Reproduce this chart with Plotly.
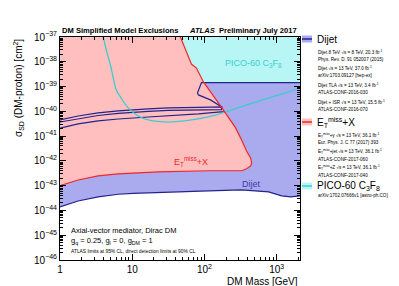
import plotly.graph_objects as go

# ---------------- data ----------------
# E_T^miss + X exclusion boundary (from top edge, down, then left along the bottom)
met_x = [46.4, 54.4, 65.9, 77.4, 96.8, 166.8, 195.8, 269.7, 316, 383, 435, 450, 435, 383, 326, 113.6, 23, 10.3, 6.4, 3.37, 1.78, 1.0]
met_y = [1e-37, 3.0e-38, 8.1e-39, 5.6e-39, 1.54e-39, 1.66e-40, 8.7e-41, 2.14e-41, 8.5e-42, 2.5e-42, 1.32e-42, 8.3e-43, 6.3e-43, 4.8e-43, 4.0e-43, 4.0e-43, 3.6e-43, 3.3e-43, 3.0e-43, 2.5e-43, 1.7e-43, 1.0e-43]

# Dijet lower limit
dijet_low_x = [1.0, 1.78, 3.37, 6.4, 10.3, 31.6, 113.6, 326, 774, 1172, 1564, 2100]
dijet_low_y = [1.4e-44, 2.4e-44, 3.5e-44, 4.5e-44, 4.9e-44, 5.6e-44, 6.2e-44, 6.8e-44, 5.6e-44, 3.9e-44, 3.5e-44, 3.9e-44]

# Dijet upper boundary (right side)
dijet_up_x = [2100, 90.8, 80, 82.5, 121, 166.8, 178]
dijet_up_y = [1.45e-39, 1.45e-39, 5.5e-40, 4.6e-40, 2.9e-40, 1.66e-40, 1.44e-40]

# Dijet thin contour (closed loop)
dijet_loop_x = [1.0, 1.78, 3.37, 6.4, 16.7, 31.6, 82.5, 172, 172, 82.5, 31.6, 16.7, 6.4, 3.37, 1.78, 1.0]
dijet_loop_y = [4.5e-41, 6.5e-41, 8.7e-41, 1.05e-40, 1.26e-40, 1.38e-40, 1.45e-40, 1.5e-40,
                1.18e-40, 1.15e-40, 1.1e-40, 1.0e-40, 8.3e-41, 6.8e-41, 5.1e-41, 3.7e-41]

# Dijet lower contour
dijet_c2_x = [1.0, 1.78, 3.37, 6.4, 16.7, 31.6, 82.5, 166.8, 190]
dijet_c2_y = [2.1e-41, 3.1e-41, 4.1e-41, 4.9e-41, 5.9e-41, 6.5e-41, 7.9e-41, 9.5e-41, 9.5e-41]

# PICO-60 C3F8 limit
pico_x = [3.96, 4.5, 5.1, 6.0, 7.0, 8.8, 12.1, 16.7, 31.6, 66, 142, 237, 562, 1070, 2100]
pico_y = [1e-37, 2.2e-38, 5.6e-39, 7.5e-40, 3.5e-40, 1.38e-40, 6.5e-41, 4.5e-41, 3.7e-41, 4.5e-41, 7.1e-41, 1.15e-40, 2.6e-40, 4.6e-40, 8.7e-40]

x_min, x_max = 1.0, 2100
y_min, y_max = 1e-46, 1e-37

x_tickvals = [1, 10, 100, 1000]
x_ticktext = ["1", "10", "10<sup>2</sup>", "10<sup>3</sup>"]
y_exps = [-46, -45, -44, -43, -42, -41, -40, -39, -38, -37]
y_tickvals = [10.0 ** e for e in y_exps]
y_ticktext = ["10<sup>\u2212%d</sup>" % (-e) for e in y_exps]

# ---------------- styles ----------------
PINK = "rgb(255,191,191)"
RED = "rgb(240,40,40)"
BLUE_F = "rgb(170,170,238)"
BLUE_L = "rgb(35,35,140)"
CYAN_F = "rgb(184,246,246)"
CYAN_L = "rgb(60,205,205)"
FONT = "Liberation Sans, Arial, sans-serif"

W, H = 399, 286
L, R, T, B = 52, 292, 29, 252

fig = go.Figure()

# cyan PICO fill (above curve)
fig.add_trace(go.Scatter(x=pico_x + [x_max, pico_x[0]], y=pico_y + [y_max, y_max],
                         fill="toself", fillcolor=CYAN_F, mode="none", hoverinfo="skip"))
# dijet fill
fig.add_trace(go.Scatter(x=dijet_low_x + dijet_up_x + dijet_loop_x[7::-1],
                         y=dijet_low_y + dijet_up_y + dijet_loop_y[7::-1],
                         fill="toself", fillcolor=BLUE_F, mode="none", hoverinfo="skip"))
# met fill
fig.add_trace(go.Scatter(x=[x_min] + met_x, y=[y_max] + met_y,
                         fill="toself", fillcolor=PINK, mode="none", hoverinfo="skip"))
# dijet lines
for xs, ys in [(dijet_low_x, dijet_low_y), (dijet_up_x, dijet_up_y),
               (dijet_loop_x, dijet_loop_y), (dijet_c2_x, dijet_c2_y)]:
    fig.add_trace(go.Scatter(x=xs, y=ys, mode="lines", line=dict(color=BLUE_L, width=1.2), hoverinfo="skip"))
# pico line
fig.add_trace(go.Scatter(x=pico_x, y=pico_y, mode="lines", line=dict(color=CYAN_L, width=1.3, shape="spline"), hoverinfo="skip"))
# met line
fig.add_trace(go.Scatter(x=met_x, y=met_y, mode="lines", line=dict(color=RED, width=1.2), hoverinfo="skip"))

axis_common = dict(type="log", showgrid=False, zeroline=False, showline=True, linecolor="black",
                   linewidth=1, mirror="allticks", ticks="inside", ticklen=6, tickcolor="black",
                   automargin=False,
                   tickfont=dict(family=FONT, size=10, color="black"))
fig.update_xaxes(range=[0, 3.3222], tickvals=x_tickvals, ticktext=x_ticktext,
                 minor=dict(dtick="D1", ticks="inside", ticklen=3, tickcolor="black"), **axis_common)
fig.update_yaxes(range=[-46, -37], tickvals=y_tickvals, ticktext=y_ticktext,
                 minor=dict(dtick="D1", ticks="inside", ticklen=3, tickcolor="black"), **axis_common)


def px(xp):
    return (xp - L) / (R - L)


def py(yp):
    return (B - yp) / (B - T)


ann = []


def text(x, y, s, size, color="black", xanchor="left", yanchor="middle", angle=0, ref="paper"):
    d = dict(x=x, y=y, text=s, showarrow=False, xanchor=xanchor, yanchor=yanchor, textangle=angle,
             font=dict(family=FONT, size=size, color=color))
    if ref == "paper":
        d.update(xref="paper", yref="paper")
    else:
        d.update(xref="x", yref="y")
    ann.append(d)


# titles
text(px(52), py(23), "<b>DM Simplified Model Exclusions</b>", 7.6, xanchor="left")
text(px(291), py(23), "<b><i>ATLAS</i></b>  <b>Preliminary July 2017</b>", 7.6, xanchor="right")
text(px(292), py(273), "DM Mass [GeV]", 10, xanchor="right")
text(px(10), py(29), "\u03c3<sub>SD</sub> (DM-proton) [cm<sup>2</sup>]", 10, xanchor="center", yanchor="top", angle=-90)

# in-plot labels (data coords, log)
text(1.82, -42.04, "E<sub>T</sub><sup>miss</sup>+X", 9, color=RED, xanchor="center", ref="data")
text(2.65, -42.93, "Dijet", 9, color="rgb(60,60,170)", xanchor="center", ref="data")
text(2.68, -38.05, "PICO-60 C<sub>3</sub>F<sub>8</sub>", 9, color=CYAN_L, xanchor="center", ref="data")

# bottom-left text
text(px(61), py(222), "Axial-vector mediator, Dirac DM", 7.5)
text(px(61), py(233), "g<sub>q</sub> = 0.25, g<sub>l</sub> = 0, g<sub>DM</sub> = 1", 7.5)
text(px(61), py(243), "ATLAS limits at 95% CL, direct detection limits at 90% CL", 4.9)

# legend
leg_main = [("Dijet", 31), ("E<sub>T</sub><sup>miss</sup>+X", 114), ("PICO-60 C<sub>3</sub>F<sub>8</sub>", 178)]
for s, yy in leg_main:
    text(px(307), py(yy), s, 10)
leg_small = [
    ("Dijet 8 TeV \u221as = 8 TeV, 20.3 fb<sup>-1</sup>", 44),
    ("Phys. Rev. D. 91 052007 (2015)", 52),
    ("Dijet \u221as = 13 TeV, 37.0 fb<sup>-1</sup>", 60),
    ("arXiv:1703.09127 [hep-ex]", 68),
    ("Dijet TLA \u221as = 13 TeV, 3.4 fb<sup>-1</sup>", 77),
    ("ATLAS-CONF-2016-030", 85),
    ("Dijet + ISR \u221as = 13 TeV, 15.5 fb<sup>-1</sup>", 94),
    ("ATLAS-CONF-2016-070", 102),
    ("E<sub>T</sub><sup>miss</sup>+\u03b3 \u221as = 13 TeV, 36.1 fb<sup>-1</sup>", 127),
    ("Eur. Phys. J. C 77 (2017) 393", 134),
    ("E<sub>T</sub><sup>miss</sup>+jet \u221as = 13 TeV, 36.1 fb<sup>-1</sup>", 143),
    ("ATLAS-CONF-2017-060", 151),
    ("E<sub>T</sub><sup>miss</sup>+Z \u221as = 13 TeV, 36.1 fb<sup>-1</sup>", 159),
    ("ATLAS-CONF-2017-040", 167),
    ("arXiv:1702.07666v1 [astro-ph.CO]", 187),
]
for s, yy in leg_small:
    text(px(308), py(yy), s, 4.6)

shapes = []
for fillc, linec, yy in [(BLUE_F, BLUE_L, 31), (PINK, RED, 114), (CYAN_F, CYAN_L, 178)]:
    shapes.append(dict(type="rect", xref="paper", yref="paper", x0=px(294), x1=px(304),
                       y0=py(yy + 3.5), y1=py(yy - 3.5), fillcolor=fillc, line=dict(width=0)))
    shapes.append(dict(type="line", xref="paper", yref="paper", x0=px(294), x1=px(304),
                       y0=py(yy), y1=py(yy), line=dict(color=linec, width=1.5)))

fig.update_layout(width=W, height=H, margin=dict(l=L, r=W - R, t=T, b=H - B),
                  paper_bgcolor="white", plot_bgcolor="white", showlegend=False,
                  annotations=ann, shapes=shapes, font=dict(family=FONT))

fig.write_html("out.html")
